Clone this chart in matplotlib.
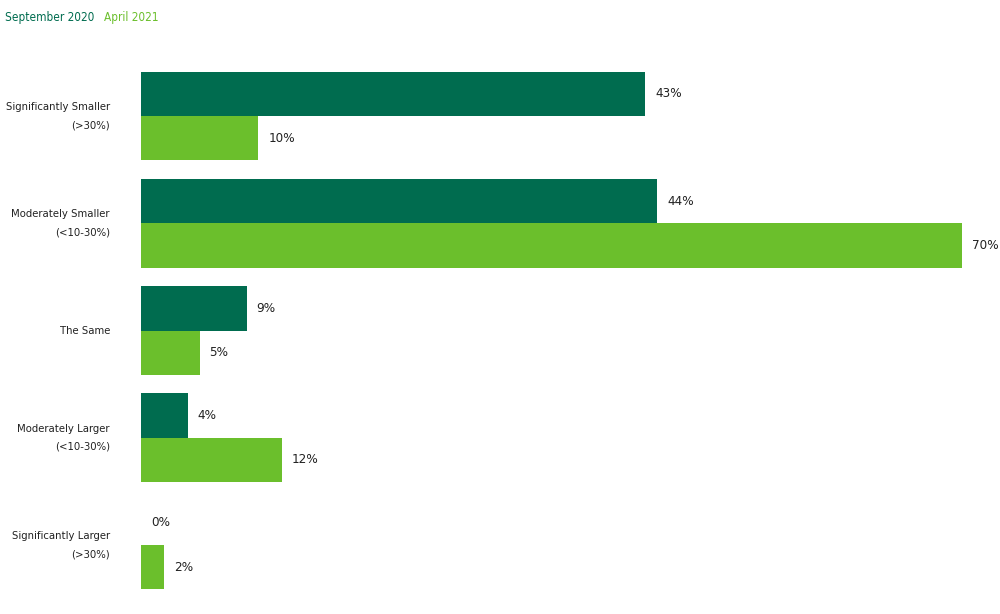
import matplotlib
matplotlib.use('Agg')
import matplotlib.pyplot as plt

# --- Data
categories = ['Significantly Smaller\n(>30%)', 'Moderately Smaller\n(<10-30%)', 'The Same',
              'Moderately Larger\n(<10-30%)', 'Significantly Larger\n(>30%)']
sep_2020 = [43, 44, 9, 4, 0]
apr_2021 = [10, 70, 5, 12, 2]
series_names = ['September 2020', 'April 2021']

dark = '#006c4f'
light = '#6bbf2c'

# condensed face looks closer to the original narrow font
plt.rcParams['font.family'] = ['DejaVu Sans']
plt.rcParams['font.stretch'] = 'condensed'

fig = plt.figure(figsize=(10, 6.14), dpi=100)
ax = fig.add_axes([0.141, 0.0, 0.859, 1.0])

h = 0.414
y = list(range(len(categories)))
ax.barh([i - h / 2 for i in y], sep_2020, height=h, color=dark)
ax.barh([i + h / 2 for i in y], apr_2021, height=h, color=light)

for i in y:
  ax.text(sep_2020[i] + 0.85, i - h / 2, f'{sep_2020[i]}%', va='center', ha='left', fontsize=9.6, color='#222222')
  ax.text(apr_2021[i] + 0.85, i + h / 2, f'{apr_2021[i]}%', va='center', ha='left', fontsize=9.6, color='#222222')
  ax.text(-2.65, i, categories[i], va='center', ha='right', fontsize=8.1, color='#222222', linespacing=2.05)

ax.set_xlim(0, 70 * 859 / 821)
ax.set_ylim(4.643, -1.0816)
ax.axis('off')

fig.text(0.005, 0.972, series_names[0], color=dark, fontsize=8.5, va='center', ha='left')
fig.text(0.104, 0.972, series_names[1], color=light, fontsize=8.5, va='center', ha='left')

plt.savefig('out.png', dpi=100)
